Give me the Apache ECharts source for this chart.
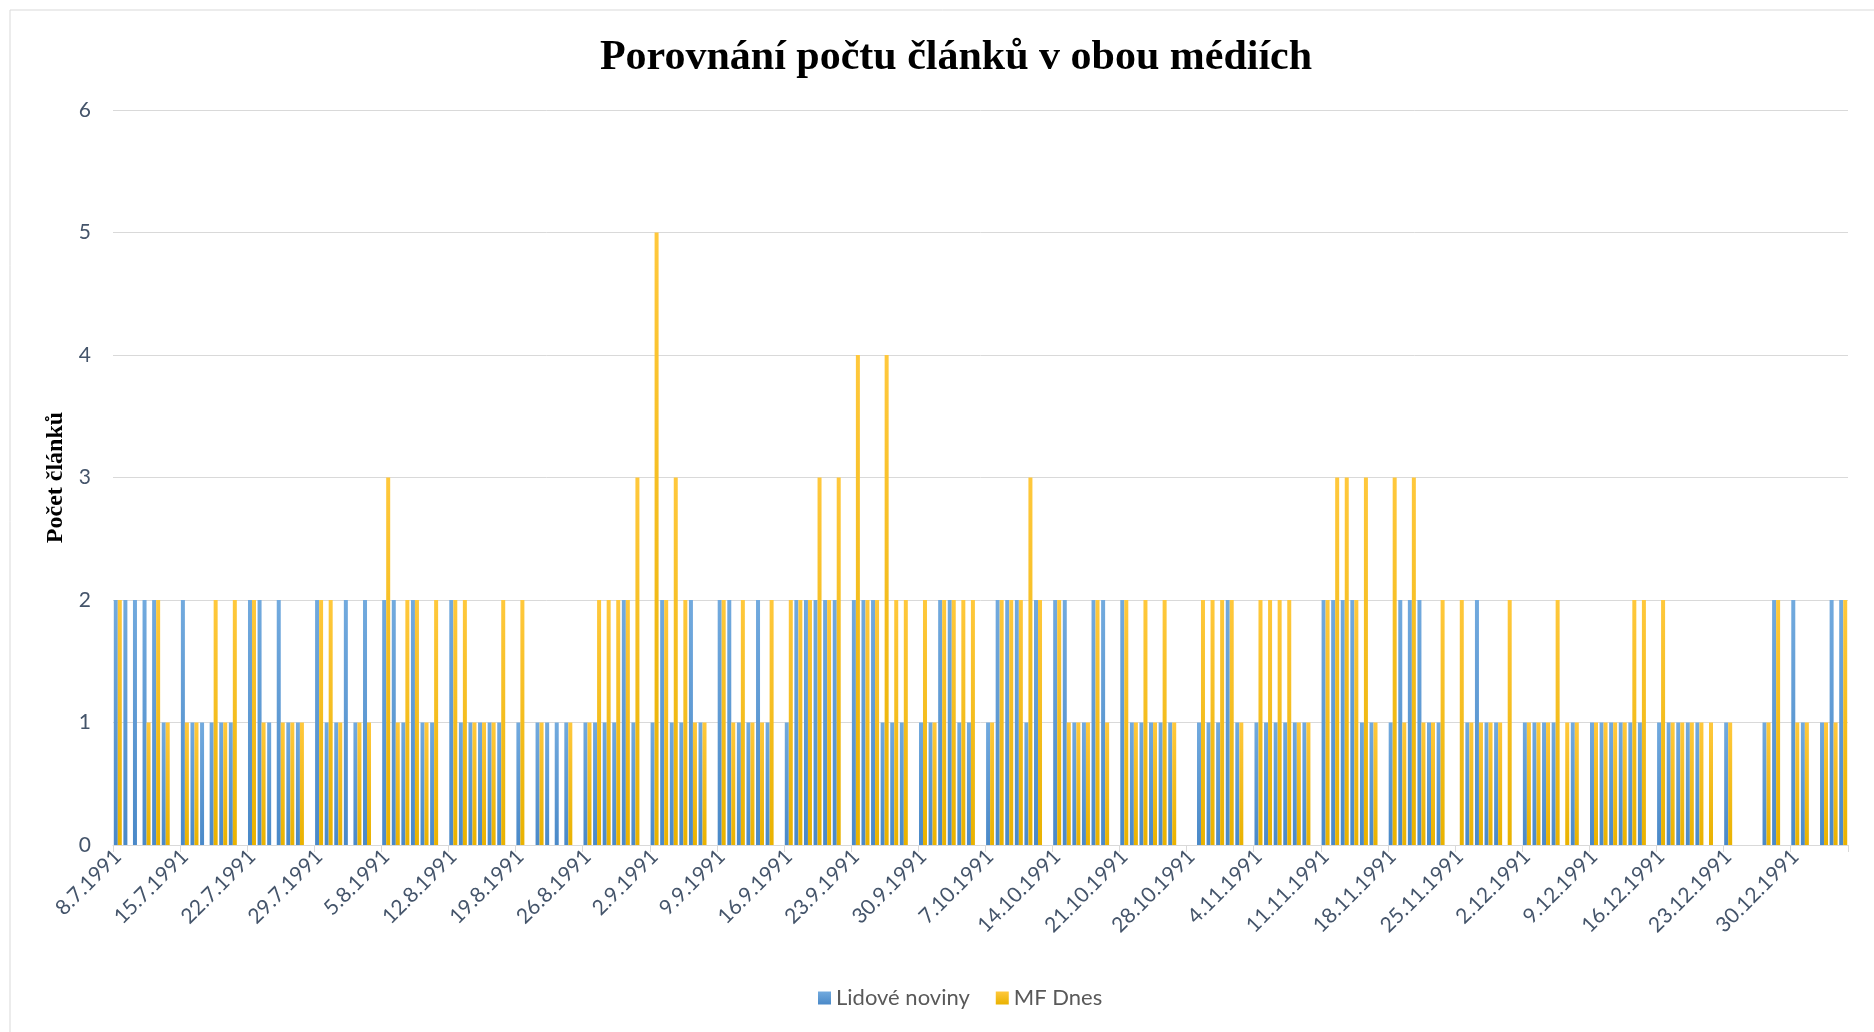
<!DOCTYPE html>
<html>
<head>
<meta charset="utf-8">
<script src="https://cdn.jsdelivr.net/npm/echarts@6/dist/echarts.min.js"></script>
<style>
html,body{margin:0;padding:0;background:#fff;}
#c{width:1874px;height:1032px;}
</style>
</head>
<body>
<div id="c"></div>
<script>
const categories = [
'8.7.1991','9.7.1991','10.7.1991','11.7.1991','12.7.1991','13.7.1991','14.7.1991','15.7.1991','16.7.1991','17.7.1991','18.7.1991','19.7.1991','20.7.1991','21.7.1991','22.7.1991','23.7.1991','24.7.1991','25.7.1991','26.7.1991','27.7.1991','28.7.1991','29.7.1991','30.7.1991','31.7.1991',
'1.8.1991','2.8.1991','3.8.1991','4.8.1991','5.8.1991','6.8.1991','7.8.1991','8.8.1991','9.8.1991','10.8.1991','11.8.1991','12.8.1991','13.8.1991','14.8.1991','15.8.1991','16.8.1991','17.8.1991','18.8.1991','19.8.1991','20.8.1991','21.8.1991','22.8.1991','23.8.1991','24.8.1991','25.8.1991','26.8.1991','27.8.1991','28.8.1991','29.8.1991','30.8.1991','31.8.1991',
'1.9.1991','2.9.1991','3.9.1991','4.9.1991','5.9.1991','6.9.1991','7.9.1991','8.9.1991','9.9.1991','10.9.1991','11.9.1991','12.9.1991','13.9.1991','14.9.1991','15.9.1991','16.9.1991','17.9.1991','18.9.1991','19.9.1991','20.9.1991','21.9.1991','22.9.1991','23.9.1991','24.9.1991','25.9.1991','26.9.1991','27.9.1991','28.9.1991','29.9.1991','30.9.1991',
'1.10.1991','2.10.1991','3.10.1991','4.10.1991','5.10.1991','6.10.1991','7.10.1991','8.10.1991','9.10.1991','10.10.1991','11.10.1991','12.10.1991','13.10.1991','14.10.1991','15.10.1991','16.10.1991','17.10.1991','18.10.1991','19.10.1991','20.10.1991','21.10.1991','22.10.1991','23.10.1991','24.10.1991','25.10.1991','26.10.1991','27.10.1991','28.10.1991','29.10.1991','30.10.1991','31.10.1991',
'1.11.1991','2.11.1991','3.11.1991','4.11.1991','5.11.1991','6.11.1991','7.11.1991','8.11.1991','9.11.1991','10.11.1991','11.11.1991','12.11.1991','13.11.1991','14.11.1991','15.11.1991','16.11.1991','17.11.1991','18.11.1991','19.11.1991','20.11.1991','21.11.1991','22.11.1991','23.11.1991','24.11.1991','25.11.1991','26.11.1991','27.11.1991','28.11.1991','29.11.1991','30.11.1991',
'1.12.1991','2.12.1991','3.12.1991','4.12.1991','5.12.1991','6.12.1991','7.12.1991','8.12.1991','9.12.1991','10.12.1991','11.12.1991','12.12.1991','13.12.1991','14.12.1991','15.12.1991','16.12.1991','17.12.1991','18.12.1991','19.12.1991','20.12.1991','21.12.1991','22.12.1991','23.12.1991','24.12.1991','25.12.1991','26.12.1991','27.12.1991','28.12.1991','29.12.1991','30.12.1991','31.12.1991',
'1.1.1992','2.1.1992','3.1.1992','4.1.1992'
];

const lidoveNoviny = [
2,2,2,2,2,1,0,2,1,1,1,1,1,0,2,2,1,2,1,1,0,2,1,1,2,1,2,0,2,2,
1,2,1,1,0,2,1,1,1,1,1,0,1,0,1,1,1,1,0,1,1,1,1,2,1,0,1,2,1,1,
2,1,0,2,2,1,1,2,1,0,1,2,2,2,2,2,0,2,2,2,1,1,1,0,1,1,2,2,1,1,
0,1,2,2,2,1,2,0,2,2,1,1,2,2,0,2,1,1,1,1,1,0,0,1,1,1,2,1,0,1,
1,1,1,1,1,0,2,2,2,2,1,1,0,1,2,2,2,1,1,0,0,1,2,1,1,0,0,1,1,1,
1,0,1,0,1,1,1,1,1,1,0,1,1,1,1,1,0,0,1,0,0,0,1,2,0,2,1,0,1,2,
2
];

const mfDnes = [
2,0,0,1,2,1,0,1,1,0,2,1,2,0,2,1,0,1,1,1,0,2,2,1,0,1,1,0,3,1,
2,2,1,2,0,2,2,1,1,1,2,0,2,0,1,0,0,1,0,1,2,2,2,2,3,0,5,2,3,2,
1,1,0,2,1,2,1,1,2,0,2,2,2,3,2,3,0,4,2,2,4,2,2,0,2,1,2,2,2,2,
0,1,2,2,2,3,2,0,2,1,1,1,2,1,0,2,1,2,1,2,1,0,0,2,2,2,2,1,0,2,
2,2,2,1,1,0,2,3,3,2,3,1,0,3,1,3,1,1,2,0,2,1,1,1,1,2,0,1,1,1,
2,1,1,0,1,1,1,1,2,2,0,2,1,1,1,1,1,0,1,0,0,0,1,2,0,1,1,0,1,1,
2
];

const seriesNames = ['Lidové noviny', 'MF Dnes'];
const yTicks = [0, 1, 2, 3, 4, 5, 6];

const chart = echarts.init(document.getElementById('c'), null, {renderer: 'canvas'});
const labelColor = '#44546A';
const blueGrad = new echarts.graphic.LinearGradient(0, 0, 0, 1, [
  {offset: 0, color: '#72AADE'}, {offset: 1, color: '#4A89C8'}
]);
const orangeGrad = new echarts.graphic.LinearGradient(0, 0, 0, 1, [
  {offset: 0, color: '#FFC83C'}, {offset: 1, color: '#E9B200'}
]);

chart.setOption({
  animation: false,
  backgroundColor: '#fff',
  graphic: [{
    type: 'rect', shape: {x: 10, y: 10, width: 1900, height: 1100},
    style: {fill: 'none', stroke: '#D9D9D9', lineWidth: 1}, silent: true
  }],
  title: {
    text: 'Porovnání počtu článků v obou médiích',
    left: 951, top: 32, textAlign: 'center',
    textStyle: {fontFamily: 'Liberation Serif', fontWeight: 'bold', fontSize: 42, color: '#000'}
  },
  legend: {
    bottom: 18, left: 813,
    itemWidth: 13, itemHeight: 13, itemGap: 26,
    icon: 'rect',
    textStyle: {fontFamily: 'Lato', fontSize: 22, color: '#595959'},
    data: seriesNames
  },
  grid: {left: 113, right: 26, top: 110, bottom: 187, containLabel: false},
  xAxis: {
    type: 'category',
    data: categories,
    boundaryGap: true,
    axisLine: {lineStyle: {color: '#D9D9D9', width: 1}},
    axisTick: {show: true, interval: 6, length: 7, lineStyle: {color: '#D9D9D9'}},
    axisLabel: {
      interval: 6, rotate: 45, margin: 8,
      fontFamily: 'Lato', fontSize: 21, color: labelColor
    },
    splitLine: {show: false}
  },
  yAxis: {
    type: 'value',
    min: yTicks[0], max: yTicks[yTicks.length - 1], interval: 1,
    name: 'Počet článků',
    nameLocation: 'middle', nameRotate: 90, nameGap: 44,
    nameTextStyle: {fontFamily: 'Liberation Serif', fontWeight: 'bold', fontSize: 24, color: '#000'},
    axisLine: {show: false},
    axisTick: {show: false},
    axisLabel: {margin: 22, fontFamily: 'Lato', fontSize: 21, color: labelColor},
    splitLine: {lineStyle: {color: '#D9D9D9', width: 1}}
  },
  series: [
    {name: seriesNames[0], type: 'bar', data: lidoveNoviny, barWidth: 4, barGap: '0%',
     itemStyle: {color: blueGrad}},
    {name: seriesNames[1], type: 'bar', data: mfDnes, barWidth: 4, barGap: '0%',
     itemStyle: {color: orangeGrad}}
  ]
});
</script>
</body>
</html>
